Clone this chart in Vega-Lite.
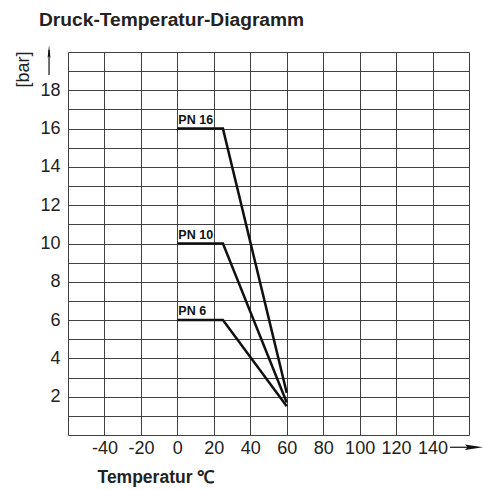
{
  "$schema": "https://vega.github.io/schema/vega-lite/v6.json",
  "autosize": "none",
  "width": 401,
  "height": 383,
  "padding": {"left": 68, "top": 52, "right": 14, "bottom": 55},
  "background": "white",
  "title": {
    "text": "Druck-Temperatur-Diagramm",
    "anchor": "start",
    "frame": "group",
    "dx": -29,
    "offset": -2,
    "baseline": "alphabetic",
    "font": "Liberation Sans",
    "fontSize": 19.2,
    "fontWeight": "bold",
    "color": "#222"
  },
  "config": {
    "view": {"stroke": null},
    "axis": {
      "grid": true,
      "gridColor": "#404040",
      "gridWidth": 1,
      "gridOpacity": 1,
      "domain": false,
      "ticks": false,
      "labelOverlap": false,
      "labelFont": "Liberation Sans",
      "labelFontSize": 18,
      "labelColor": "#222",
      "titleFont": "Liberation Sans",
      "titleColor": "#222"
    }
  },
  "datasets": {
    "curves": [
      {"series": "PN 16", "temp": 0, "bar": 16},
      {"series": "PN 16", "temp": 25, "bar": 16},
      {"series": "PN 16", "temp": 60, "bar": 2.2},
      {"series": "PN 10", "temp": 0, "bar": 10},
      {"series": "PN 10", "temp": 25, "bar": 10},
      {"series": "PN 10", "temp": 60, "bar": 1.7},
      {"series": "PN 6", "temp": 0, "bar": 6},
      {"series": "PN 6", "temp": 25, "bar": 6},
      {"series": "PN 6", "temp": 60, "bar": 1.5}
    ],
    "labels": [
      {"series": "PN 16", "temp": 0, "bar": 16},
      {"series": "PN 10", "temp": 0, "bar": 10},
      {"series": "PN 6", "temp": 0, "bar": 6}
    ],
    "arrows": [
      {"kind": "up", "x1": -70.4, "x2": -70.4, "y1": 18.8, "y2": 20.1, "hx": -70.4, "hy": 20.03},
      {"kind": "right", "x1": 149.6, "x2": 160.5, "y1": -0.64, "y2": -0.64, "hx": 162.7, "hy": -0.64}
    ]
  },
  "layer": [
    {
      "data": {"name": "curves"},
      "mark": {"type": "line", "color": "#111", "strokeWidth": 2.5, "strokeJoin": "miter"},
      "encoding": {
        "x": {
          "field": "temp", "type": "quantitative",
          "scale": {"domain": [-60, 160], "nice": false, "zero": false},
          "axis": {
            "values": [-60, -40, -20, 0, 20, 40, 60, 80, 100, 120, 140, 160],
            "tickCount": 12,
            "labelExpr": "datum.value > -60 && datum.value < 160 ? '' + datum.value : ''",
            "labelPadding": 4,
            "title": "Temperatur ℃",
            "titleFontSize": 17.5,
            "titleFontWeight": "bold",
            "titleAlign": "left",
            "titleBaseline": "alphabetic",
            "titleX": 29,
            "titleY": 47
          }
        },
        "y": {
          "field": "bar", "type": "quantitative",
          "scale": {"domain": [0, 20], "nice": false, "zero": false},
          "axis": {
            "values": [0, 1, 2, 3, 4, 5, 6, 7, 8, 9, 10, 11, 12, 13, 14, 15, 16, 17, 18, 19, 20],
            "tickCount": 21,
            "labelExpr": "datum.value % 2 == 0 && datum.value > 0 && datum.value < 20 ? '' + datum.value : ''",
            "labelPadding": 8,
            "labelBaseline": "middle",
            "title": "[bar]",
            "titleFontSize": 18,
            "titleFontWeight": "normal",
            "titleAngle": -90,
            "titleAlign": "center",
            "titleBaseline": "middle",
            "titleX": -45,
            "titleY": 17
          }
        },
        "detail": {"field": "series"}
      }
    },
    {
      "data": {"name": "labels"},
      "mark": {"type": "text", "align": "left", "baseline": "alphabetic", "dy": -5, "dx": 1, "font": "Liberation Sans", "fontSize": 12.5, "fontWeight": "bold", "color": "#111"},
      "encoding": {
        "x": {"field": "temp", "type": "quantitative"},
        "y": {"field": "bar", "type": "quantitative"},
        "text": {"field": "series"}
      }
    },
    {
      "data": {"name": "arrows"},
      "mark": {"type": "rule", "color": "#111", "strokeWidth": 1.2},
      "encoding": {
        "x": {"field": "x1", "type": "quantitative"},
        "x2": {"field": "x2"},
        "y": {"field": "y1", "type": "quantitative"},
        "y2": {"field": "y2"}
      }
    },
    {
      "data": {"name": "arrows"},
      "transform": [{"filter": "datum.kind == 'up'"}],
      "mark": {"type": "point", "filled": true, "color": "#111", "opacity": 1, "size": 169, "shape": "M0,-1L0.22,1L0,0.7L-0.22,1Z"},
      "encoding": {
        "x": {"field": "hx", "type": "quantitative"},
        "y": {"field": "hy", "type": "quantitative"}
      }
    },
    {
      "data": {"name": "arrows"},
      "transform": [{"filter": "datum.kind == 'right'"}],
      "mark": {"type": "point", "filled": true, "color": "#111", "opacity": 1, "size": 324, "shape": "M1,0L-1,-0.3L-0.7,0L-1,0.3Z"},
      "encoding": {
        "x": {"field": "hx", "type": "quantitative"},
        "y": {"field": "hy", "type": "quantitative"}
      }
    }
  ]
}
